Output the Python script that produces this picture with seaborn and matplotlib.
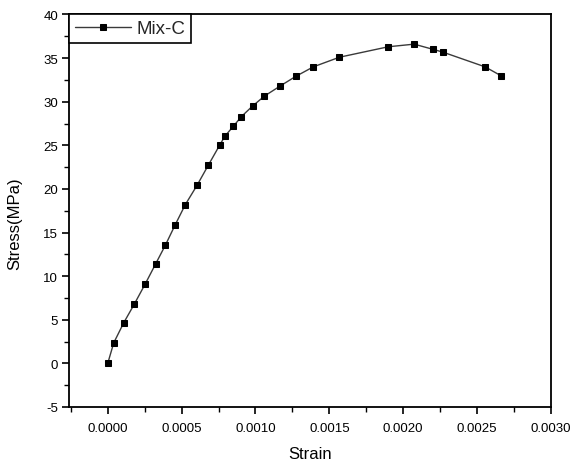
import matplotlib
matplotlib.use("Agg")
import matplotlib.pyplot as plt
from matplotlib.ticker import MultipleLocator, FormatStrFormatter
import seaborn as sns
import pandas as pd

# Stress-strain curve for the Mix-C specimen
strain = [0.0, 0.0000405, 0.000108, 0.000180, 0.000255, 0.000324, 0.000390,
          0.000457, 0.000525, 0.000604, 0.000680, 0.000757, 0.000793, 0.000851,
          0.000905, 0.000980, 0.001061, 0.001167, 0.001272, 0.001392, 0.001568,
          0.001899, 0.002074, 0.002203, 0.002266, 0.002554, 0.002665]
stress = [0.0, 2.35, 4.65, 6.8, 9.15, 11.4, 13.55,
          15.9, 18.2, 20.4, 22.7, 25.0, 26.05, 27.2,
          28.3, 29.5, 30.65, 31.8, 32.9, 34.0, 35.1,
          36.3, 36.6, 36.0, 35.7, 34.0, 32.95]
series_name = "Mix-C"
x_ticks = [0.0000, 0.0005, 0.0010, 0.0015, 0.0020, 0.0025, 0.0030]
y_ticks = [-5, 0, 5, 10, 15, 20, 25, 30, 35, 40]

df = pd.DataFrame({"Strain": strain, "Stress": stress, "Specimen": series_name})

sns.set_style("ticks")
plt.rcParams["font.family"] = ["Liberation Sans", "DejaVu Sans"]
plt.rcParams["axes.unicode_minus"] = False

fig = plt.figure(figsize=(5.73, 4.64), dpi=100)
ax = fig.add_axes([0.121, 0.1207, 0.8405, 0.8459])

sns.lineplot(data=df, x="Strain", y="Stress", hue="Specimen",
             palette=["black"], marker="s", markersize=4.6,
             markeredgecolor="black", linewidth=1.0, sort=False, ax=ax)
for ln in ax.lines:
    ln.set_color("#3a3a3a")
    ln.set_markerfacecolor("black")
    ln.set_markeredgecolor("black")

ax.set_xlim(-0.00026, 0.0030)
ax.set_ylim(-5, 40)
ax.set_xticks(x_ticks)
ax.set_yticks(y_ticks)
ax.xaxis.set_major_formatter(FormatStrFormatter("%.4f"))
ax.xaxis.set_minor_locator(MultipleLocator(0.00025))
ax.yaxis.set_minor_locator(MultipleLocator(2.5))

for s in ax.spines.values():
    s.set_visible(True)
    s.set_color("black")
    s.set_linewidth(1.3)

ax.tick_params(axis="both", which="major", direction="out", length=5,
               width=1.2, color="black", labelsize=9.5, labelcolor="black", pad=3)
ax.tick_params(axis="both", which="minor", direction="out", length=3.5,
               width=1.0, color="black")
ax.tick_params(top=False, right=False, which="both")
ax.tick_params(axis="x", which="major", pad=6)

ax.set_xlabel("Strain", fontsize=12, color="black")
ax.set_ylabel("Stress(MPa)", fontsize=12, color="black")
ax.xaxis.set_label_coords(0.5, -0.1)
ax.yaxis.set_label_coords(-0.098, 0.47)

handles, labels = ax.get_legend_handles_labels()
leg = ax.legend(handles, labels, loc="upper left", borderaxespad=0,
                fontsize=13.5, frameon=True, fancybox=False, framealpha=1,
                edgecolor="black", handlelength=3.0, handletextpad=0.3,
                borderpad=0.3, handleheight=0.7)
leg.get_frame().set_linewidth(1.2)

fig.savefig("out.png", dpi=100, facecolor="white")
